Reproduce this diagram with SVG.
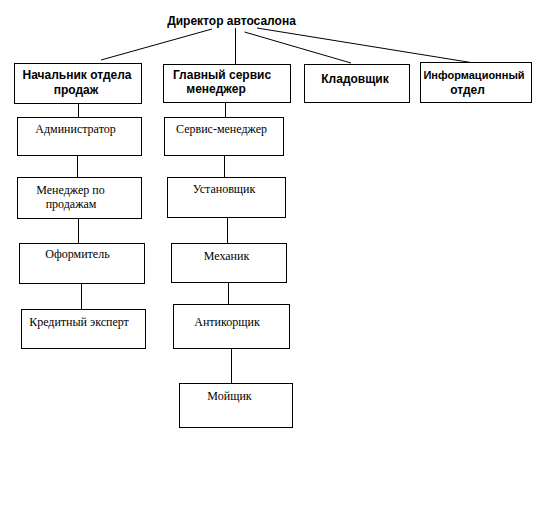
<svg xmlns="http://www.w3.org/2000/svg" width="542" height="510" viewBox="0 0 542 510">
<style>
.box{fill:#fff;stroke:#000;stroke-width:1}
.c line{stroke:#000;stroke-width:1}
.b{font-family:"Liberation Sans",Arial,sans-serif;font-weight:bold;font-size:12px;fill:#000;text-anchor:middle}
.n{font-size:11px}
.s{font-family:"Liberation Serif","Times New Roman",serif;font-size:12px;fill:#000;text-anchor:middle}
</style>
<rect width="542" height="510" fill="#fff"/>
<g class="c" id="connectors">
<line x1="101" y1="60" x2="212" y2="29"/>
<line x1="235.5" y1="28" x2="235.5" y2="64"/>
<line x1="244.5" y1="32" x2="351" y2="63"/>
<line x1="257" y1="28" x2="474" y2="63"/>
<line x1="78.5" y1="103" x2="78.5" y2="117"/>
<line x1="225.5" y1="103" x2="225.5" y2="117"/>
<line x1="77.5" y1="156" x2="77.5" y2="177"/>
<line x1="224.5" y1="156" x2="224.5" y2="177"/>
<line x1="78.5" y1="219" x2="78.5" y2="243"/>
<line x1="227.5" y1="218" x2="227.5" y2="243"/>
<line x1="81.5" y1="284" x2="81.5" y2="309"/>
<line x1="228.5" y1="282" x2="228.5" y2="304"/>
<line x1="231.5" y1="348" x2="231.5" y2="383"/>
</g>
<g id="director"><text class="b" x="231.5" y="25">Директор автосалона</text></g>
<g id="nach"><rect class="box" x="14.5" y="63.5" width="127" height="40"/><text class="b" x="77" y="79">Начальник отдела</text><text class="b" x="76" y="94">продаж</text></g>
<g id="glav"><rect class="box" x="163.5" y="64.5" width="127" height="38"/><text class="b" x="222" y="79">Главный сервис</text><text class="b" x="216" y="93">менеджер</text></g>
<g id="klad"><rect class="box" x="304.5" y="64.5" width="105" height="38"/><text class="b" x="355" y="83">Кладовщик</text></g>
<g id="info"><rect class="box" x="420.5" y="62.5" width="111" height="40"/><text class="b n" x="474" y="79">Информационный</text><text class="b" x="467.5" y="94">отдел</text></g>
<g id="admin"><rect class="box" x="17.5" y="117.5" width="124" height="38"/><text class="s" x="75.5" y="133">Администратор</text></g>
<g id="manager"><rect class="box" x="17.5" y="177.5" width="124" height="41"/><text class="s" x="70.5" y="194">Менеджер по</text><text class="s" x="71" y="208">продажам</text></g>
<g id="oform"><rect class="box" x="19.5" y="243.5" width="125" height="40"/><text class="s" x="77.5" y="258">Оформитель</text></g>
<g id="kredit"><rect class="box" x="21.5" y="309.5" width="124" height="39"/><text class="s" x="79" y="326">Кредитный эксперт</text></g>
<g id="servis"><rect class="box" x="164.5" y="117.5" width="119" height="38"/><text class="s" x="221.5" y="133">Сервис-менеджер</text></g>
<g id="ustan"><rect class="box" x="167.5" y="177.5" width="118" height="40"/><text class="s" x="224" y="193">Установщик</text></g>
<g id="mekh"><rect class="box" x="171.5" y="243.5" width="115" height="39"/><text class="s" x="226.5" y="260">Механик</text></g>
<g id="anti"><rect class="box" x="173.5" y="304.5" width="116" height="44"/><text class="s" x="227" y="326">Антикорщик</text></g>
<g id="moy"><rect class="box" x="179.5" y="383.5" width="113" height="44"/><text class="s" x="229.5" y="400">Мойщик</text></g>
</svg>
